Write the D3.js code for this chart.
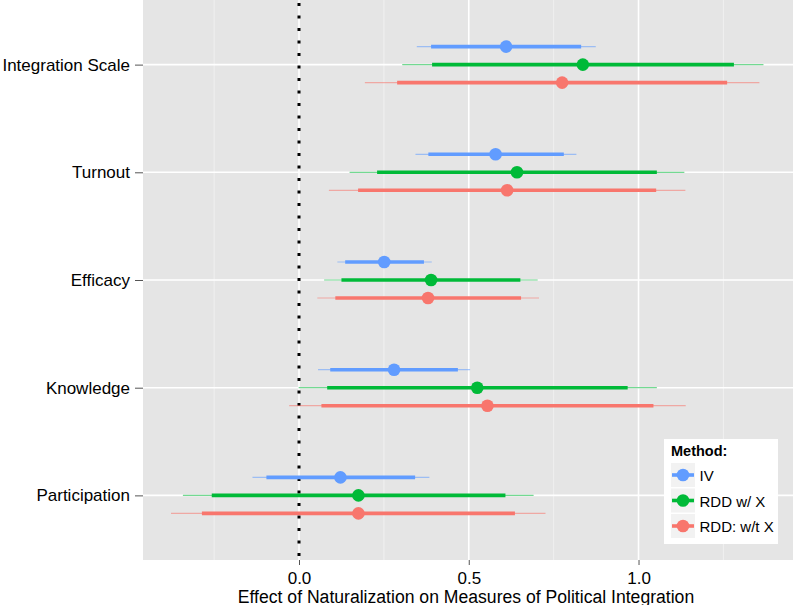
<!DOCTYPE html>
<html>
<head>
<meta charset="utf-8">
<script src="https://cdn.jsdelivr.net/npm/d3@7"></script>
<style>
  html, body { margin: 0; padding: 0; background: #fff; }
  svg { display: block; font-family: "Liberation Sans", Arial, Helvetica, sans-serif; }
</style>
</head>
<body>
<svg id="chart" width="793" height="605"></svg>
<script>
// ---- data ----
const outcomes = ["Integration Scale", "Turnout", "Efficacy", "Knowledge", "Participation"];
const methods = ["IV", "RDD w/ X", "RDD: w/t X"];
const methodColors = ["#619CFF", "#00BA38", "#F8766D"];
// point estimates [outcome][method]
const estimate = [
  [0.610, 0.836, 0.775],
  [0.579, 0.642, 0.613],
  [0.251, 0.389, 0.380],
  [0.280, 0.525, 0.555],
  [0.122, 0.175, 0.175]
];
// inner (thick) interval
const innerLow = [
  [0.389, 0.392, 0.289],
  [0.381, 0.230, 0.174],
  [0.136, 0.125, 0.107],
  [0.092, 0.083, 0.066],
  [-0.096, -0.257, -0.286]
];
const innerHigh = [
  [0.831, 1.281, 1.261],
  [0.780, 1.054, 1.052],
  [0.368, 0.652, 0.654],
  [0.468, 0.968, 1.044],
  [0.342, 0.608, 0.636]
];
// outer (thin) interval
const outerLow = [
  [0.347, 0.304, 0.194],
  [0.343, 0.149, 0.088],
  [0.113, 0.074, 0.054],
  [0.056, -0.001, -0.029],
  [-0.137, -0.342, -0.377]
];
const outerHigh = [
  [0.874, 1.368, 1.356],
  [0.817, 1.135, 1.138],
  [0.391, 0.703, 0.707],
  [0.504, 1.054, 1.139],
  [0.384, 0.691, 0.726]
];
const xTicks = [0, 0.5, 1.0];
const xMinor = [-0.25, 0.25, 0.75, 1.25];
const xTitle = "Effect of Naturalization on Measures of Political Integration";
const legendTitle = "Method:";

// ---- layout ----
const svg = d3.select("#chart");
const panel = { left: 143, right: 793, top: 0, bottom: 560 };

const x = d3.scaleLinear().domain([-0.4595, 1.455]).range([panel.left, panel.right]);
const y = d3.scalePoint().domain(outcomes).range([panel.top, panel.bottom]).padding(0.6);
const dodge = d3.scalePoint().domain(methods).range([-18, 18]);
const color = d3.scaleOrdinal().domain(methods).range(methodColors);

const rows = [];
outcomes.forEach((o, i) => methods.forEach((m, j) => rows.push({
  outcome: o, method: m,
  est: estimate[i][j], lo: innerLow[i][j], hi: innerHigh[i][j],
  olo: outerLow[i][j], ohi: outerHigh[i][j]
})));

// panel background
svg.append("rect").attr("x", panel.left).attr("y", panel.top)
  .attr("width", panel.right - panel.left).attr("height", panel.bottom - panel.top)
  .attr("fill", "#E5E5E5");

const grid = svg.append("g");
grid.selectAll("line.minor").data(xMinor).enter().append("line")
  .attr("x1", d => x(d)).attr("x2", d => x(d))
  .attr("y1", panel.top).attr("y2", panel.bottom)
  .attr("stroke", "#F2F2F2").attr("stroke-width", 0.8);
grid.selectAll("line.majx").data(xTicks).enter().append("line")
  .attr("x1", d => x(d)).attr("x2", d => x(d))
  .attr("y1", panel.top).attr("y2", panel.bottom)
  .attr("stroke", "#FFFFFF").attr("stroke-width", 1.6);
grid.selectAll("line.majy").data(outcomes).enter().append("line")
  .attr("x1", panel.left).attr("x2", panel.right)
  .attr("y1", d => y(d)).attr("y2", d => y(d))
  .attr("stroke", "#FFFFFF").attr("stroke-width", 1.6);

// reference line at 0
svg.append("line")
  .attr("x1", x(0)).attr("x2", x(0))
  .attr("y1", panel.top + 3).attr("y2", panel.bottom)
  .attr("stroke", "#000").attr("stroke-width", 3)
  .attr("stroke-dasharray", "3 9.5");

// marks
const g = svg.append("g");
const ypos = d => y(d.outcome) + dodge(d.method);
g.selectAll("line.outer").data(rows).enter().append("line")
  .attr("x1", d => x(d.olo)).attr("x2", d => x(d.ohi))
  .attr("y1", ypos).attr("y2", ypos)
  .attr("stroke", d => color(d.method)).attr("stroke-opacity", 0.55)
  .attr("stroke-width", 1.2);
g.selectAll("line.inner").data(rows).enter().append("line")
  .attr("x1", d => x(d.lo)).attr("x2", d => x(d.hi))
  .attr("y1", ypos).attr("y2", ypos)
  .attr("stroke", d => color(d.method)).attr("stroke-width", 3.6);
g.selectAll("circle").data(rows).enter().append("circle")
  .attr("cx", d => x(d.est)).attr("cy", ypos).attr("r", 6.3)
  .attr("fill", d => color(d.method));

// axes
const xAxis = svg.append("g").attr("transform", `translate(0,${panel.bottom})`)
  .call(d3.axisBottom(x).tickValues(xTicks).tickFormat(d3.format(".1f")).tickSize(5).tickPadding(7));
xAxis.select(".domain").remove();
xAxis.selectAll("line").attr("stroke", "#555");
xAxis.selectAll("text").attr("font-size", 17).attr("fill", "#000")
  .attr("font-family", "Liberation Sans, Arial, sans-serif");

const yAxis = svg.append("g").attr("transform", `translate(${panel.left},0)`)
  .call(d3.axisLeft(y).tickSize(8).tickPadding(5));
yAxis.select(".domain").remove();
yAxis.selectAll("line").attr("stroke", "#555");
yAxis.selectAll("text").attr("font-size", 17).attr("fill", "#000")
  .attr("font-family", "Liberation Sans, Arial, sans-serif");

svg.append("text").attr("x", (panel.left + panel.right) / 2 - 2).attr("y", 602.5)
  .attr("text-anchor", "middle").attr("font-size", 17.6).text(xTitle);

// legend
const lg = svg.append("g").attr("transform", "translate(664,439)");
lg.append("rect").attr("width", 114).attr("height", 105).attr("fill", "#fff");
lg.append("text").attr("x", 7).attr("y", 17).attr("font-size", 14.5)
  .attr("font-weight", "bold").text(legendTitle);
const key = lg.selectAll("g.key").data(methods).enter().append("g")
  .attr("transform", (d, i) => `translate(7,${24 + i * 25.5})`);
key.append("rect").attr("width", 24).attr("height", 24).attr("fill", "#F2F2F2");
key.append("line").attr("x1", 1).attr("x2", 23).attr("y1", 12).attr("y2", 12)
  .attr("stroke", d => color(d)).attr("stroke-width", 3.6);
key.append("circle").attr("cx", 12).attr("cy", 12).attr("r", 6.3).attr("fill", d => color(d));
key.append("text").attr("x", 28.5).attr("y", 18).attr("font-size", 15).text(d => d);
</script>
</body>
</html>
